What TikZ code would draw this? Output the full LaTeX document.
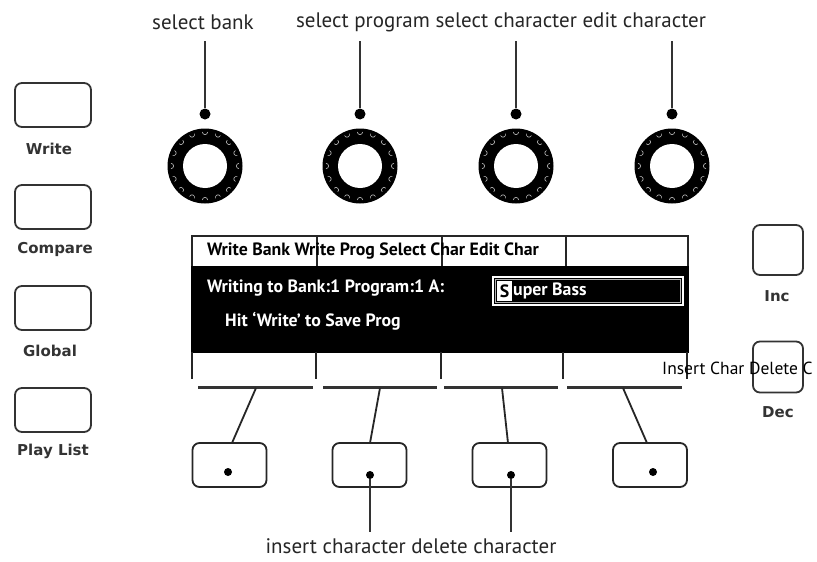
\documentclass[tikz,border=0pt]{standalone}
\usepackage{fontspec}
\setmainfont{PT Sans}
\newfontfamily\btnfont{DejaVu Sans}
\begin{document}
\begin{tikzpicture}[x=1pt,y=-1pt,
  toplabel/.style={font=\fontsize{21}{24}\selectfont, inner sep=0, text=black!85},
  knobbody/.style={circle, fill=black, minimum size=75pt, inner sep=0},
  knobhole/.style={circle, fill=white, minimum size=44pt, inner sep=0},
  knobdot/.style={circle, fill=black, minimum size=11pt, inner sep=0},
  ridge/.style={draw=gray!45, line width=0.6pt},
  pinline/.style={line width=1.6pt, draw=black!80},
  sidebtn/.style={draw=black!80, line width=1.8pt, rounded corners=7pt, minimum width=76pt, minimum height=44pt, inner sep=0},
  sidelabel/.style={font=\btnfont\bfseries\fontsize{15}{17}\selectfont, text=black!80, inner sep=0},
  softbtn/.style={draw=black!85, line width=1.8pt, rounded corners=7pt, minimum width=74pt, minimum height=44pt, inner sep=0},
  softdot/.style={circle, fill=black, minimum size=8pt, inner sep=0},
  disptext/.style={font=\bfseries\fontsize{17.8}{20}\selectfont, inner sep=0},
  frameline/.style={line width=1.2pt, draw=black!85},
  barline/.style={line width=3pt, draw=black!80},
  connline/.style={line width=1.8pt, draw=black!85}
]
\useasboundingbox (0,0) rectangle (817,562);
\fill[white] (0,0) rectangle (817,562);

% top labels
\node[toplabel] (lbank) at (203,22) {select bank};
\node[toplabel] (lrest) at (501,22) {select program select character edit character};

% knobs
\foreach \x/\n/\w in {205/1/1.6,360/2/1.6,516/3/2.6,672/4/1.6} {
  \node[knobbody] (k\n) at (\x,166) {};
  \foreach \a in {0,22.5,...,337.5}
    \draw[ridge] ([shift={(\a+90:34)}]k\n.center) ++(\a+180:2.6) arc[start angle=\a+180, end angle=\a+360, radius=2.6];
  \node[knobhole] (h\n) at (k\n) {};
  \node[knobdot] (d\n) at (\x,114) {};
  \coordinate (t\n) at (\x,41);
  \draw[pinline, line width=\w pt] (t\n) -- (d\n);
}

% left buttons
\node[sidebtn] (bw) at (53,105) {};
\node[sidelabel] (lw) at (49,149) {Write};
\node[sidebtn] (bc) at (53,207) {};
\node[sidelabel] (lc) at (55,249) {Compare};
\node[sidebtn] (bg) at (53,308) {};
\node[sidelabel] (lg) at (50,351) {Global};
\node[sidebtn] (bp) at (53,410) {};
\node[sidelabel] (lp) at (53,451) {Play List};

% right buttons
\node[sidebtn, minimum width=50pt, minimum height=50pt] (binc) at (778,250) {};
\node[sidelabel] (linc) at (777,296) {Inc};
\node[sidebtn, minimum width=50pt, minimum height=51pt] (bdec) at (778,367) {};
\node[sidelabel] (ldec) at (778,412) {Dec};

% display
\draw[frameline] (192,268) -- (192,236) -- (688,236) -- (688,268);
\foreach \x in {317,442,566} \draw[frameline] (\x,236) -- (\x,268);
\fill[black] (191,266) rectangle (689,353);
\foreach \x in {192,316,441,563,687} \draw[frameline] (\x,352) -- (\x,379);
\node[disptext, anchor=west] (hdr) at (207,251) {Write Bank Write Prog Select Char Edit Char};
\node[disptext, anchor=west, text=white] (ln1) at (207,288) {Writing to Bank:1 Program:1 A:};
\node[disptext, anchor=west, text=white] (ln2) at (225,321) {Hit ‘Write’ to Save Prog};
\draw[white, line width=1.4pt] (493,277) rectangle (683,305);
\draw[gray!60, line width=0.6pt] (495.5,279.5) rectangle (680.5,302.5);
\fill[white] (497,281) rectangle (512,301);
\node[disptext, text=black] (cur) at (504.5,291) {S};
\node[disptext, anchor=west, text=white] (sb) at (513,291) {uper Bass};
\node[font=\fontsize{17.5}{20}\selectfont, inner sep=0, anchor=west] (ins) at (662,368) {Insert Char Delete C};

% bars
\draw[barline] (198,387) -- (313,387);
\draw[barline] (323,387) -- (437,387);
\draw[barline] (444,387) -- (558,387);
\draw[barline] (567,387) -- (682,387);
\coordinate (c1) at (256,388);
\coordinate (c2) at (380,388);
\coordinate (c3) at (502,388);
\coordinate (c4) at (623,388);

% soft buttons
\node[softbtn] (s1) at (229.5,465) {};
\node[softbtn] (s2) at (369.5,465) {};
\node[softbtn] (s3) at (509.5,465) {};
\node[softbtn] (s4) at (650,465) {};
\node[softdot] (sd1) at (228,472) {};
\node[softdot] (sd2) at (370,475) {};
\node[softdot] (sd3) at (511,475) {};
\node[softdot] (sd4) at (653,472) {};
\draw[connline] (c1) -- (232,443);
\draw[connline] (c2) -- (370,443);
\draw[connline] (c3) -- (508,443);
\draw[connline] (c4) -- (647,443);

% bottom label
\coordinate (e2) at (370,532);
\coordinate (e3) at (511,532);
\draw[pinline] (sd2) -- (e2);
\draw[pinline] (sd3) -- (e3);
\node[toplabel] (lbot) at (411,546) {insert character delete character};
\end{tikzpicture}
\end{document}
